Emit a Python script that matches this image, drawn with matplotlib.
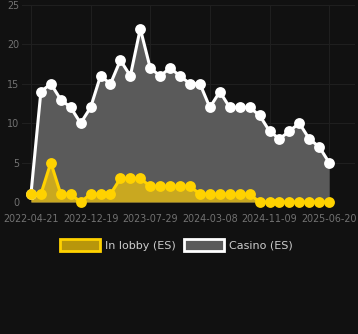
# Recreate the dark area chart: In lobby (ES) vs Casino (ES)
import matplotlib
matplotlib.use("Agg")
import matplotlib.pyplot as plt
from matplotlib.patches import Patch

# ------------------------------------------------------------
# Data
# ------------------------------------------------------------
tick_labels = ["2022-04-21", "2022-12-19", "2023-07-29",
               "2024-03-08", "2024-11-09", "2025-06-20"]

casino = [1, 14, 15, 13, 12, 10, 12, 16, 15, 18, 16, 22, 17, 16, 17, 16,
          15, 15, 12, 14, 12, 12, 12, 11, 9, 8, 9, 10, 8, 7, 5]
in_lobby = [1, 1, 5, 1, 1, 0, 1, 1, 1, 3, 3, 3, 2, 2, 2, 2,
            2, 1, 1, 1, 1, 1, 1, 0, 0, 0, 0, 0, 0, 0, 0]

# ------------------------------------------------------------
# Colours
# ------------------------------------------------------------
BG = "#111111"
GRID = "#1f1f1f"
TICK = "#727272"
CASINO_FILL = "#5a5a5a"
CASINO_LINE = "#ffffff"
LOBBY_FILL = "#c9a820"
LOBBY_LINE = "#ffd200"

x = list(range(len(casino)))

fig = plt.figure(figsize=(3.58, 3.34), dpi=100, facecolor=BG)
ax = fig.add_axes([22 / 358, 1 - 202 / 334, 333 / 358, 197 / 334])
ax.set_facecolor(BG)

# Areas first, gold area sits on top of the grey one
ax.fill_between(x, casino, 0, color=CASINO_FILL, lw=0, zorder=1)
ax.fill_between(x, in_lobby, 0, color=LOBBY_FILL, lw=0, zorder=2)

# Lines with round markers
ax.plot(x, casino, color=CASINO_LINE, lw=2.2, marker="o", markersize=7.8,
        markeredgewidth=0, zorder=3, clip_on=False)
ax.plot(x, in_lobby, color=LOBBY_LINE, lw=2.2, marker="o", markersize=7.8,
        markeredgewidth=0, zorder=4, clip_on=False)

# Axes limits and ticks
ax.set_xlim(-0.9, 32.6)
ax.set_ylim(0, 25)
ax.set_yticks([0, 5, 10, 15, 20, 25])
ax.set_xticks(x[::6])
ax.set_xticklabels(tick_labels)
ax.tick_params(colors=TICK, labelsize=6.9, length=0)
ax.tick_params(axis="x", pad=8.5)
ax.tick_params(axis="y", pad=2)

ax.grid(True, color=GRID, lw=0.8, zorder=0)
ax.set_axisbelow(True)
for side in ax.spines.values():
    side.set_visible(False)

# Legend under the chart
handles = [
    Patch(facecolor="#b8960b", edgecolor=LOBBY_LINE, lw=2, label="In lobby (ES)"),
    Patch(facecolor=CASINO_FILL, edgecolor=CASINO_LINE, lw=2, label="Casino (ES)"),
]
fig.legend(handles=handles, loc="center", bbox_to_anchor=(0.493, 1 - 245 / 334),
           ncol=2, frameon=False, fontsize=8, labelcolor="#cccccc",
           handlelength=3.6, handleheight=1.2, columnspacing=0.8,
           handletextpad=0.45)

fig.savefig("out.png", dpi=100, facecolor=BG)
